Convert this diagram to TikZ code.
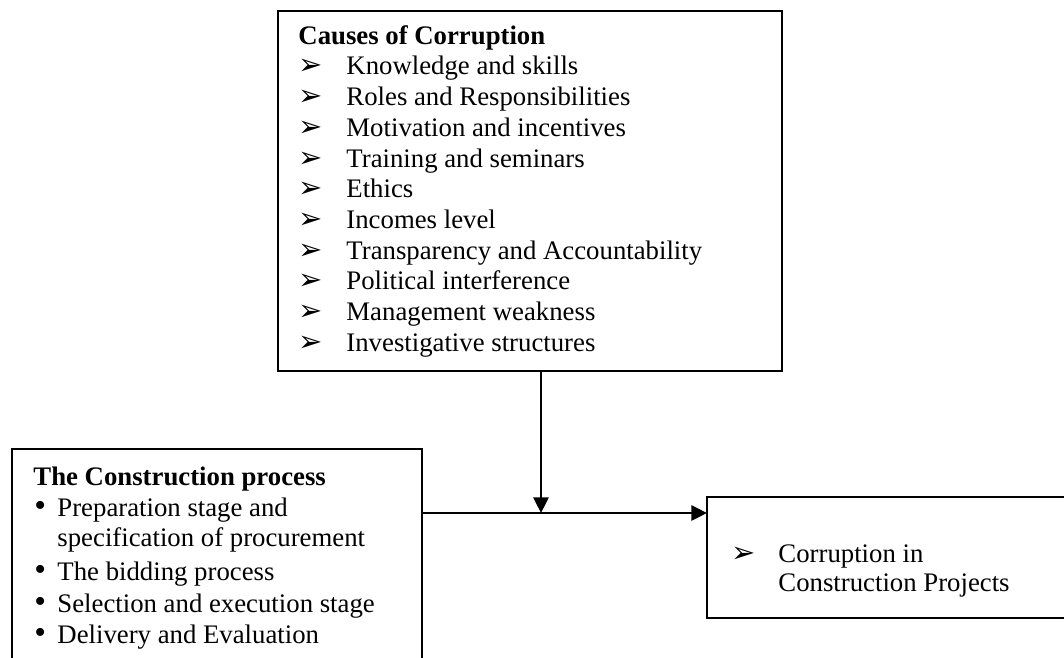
\documentclass[tikz,border=0pt]{standalone}
\usepackage{fontspec}
\setmainfont{Liberation Serif}
\newfontfamily\arrowfont{DejaVu Sans}
\usetikzlibrary{arrows.meta}
\newcommand{\pxu}{0.4484pt}
\newcommand{\pointer}{{\arrowfont\fontsize{13pt}{14pt}\selectfont ➢}}
\newcommand{\stagedot}{{\fontsize{15pt}{15pt}\selectfont\textbullet}}
\tikzset{
  box/.style={draw,line width=0.8pt,rectangle,inner sep=0pt,anchor=north west},
  openbox/.style={rectangle,inner sep=0pt,anchor=north west},
  frame/.style={line width=0.8pt},
  entry/.style={anchor=base west,inner sep=0pt,font=\fontsize{12pt}{13.8pt}\selectfont},
  flow/.style={line width=1pt,-{Triangle[length=7pt,width=6.8pt]}}
}

\begin{document}
\begin{tikzpicture}[x=0.4484pt,y=-0.4484pt]
          \useasboundingbox (0,0) rectangle (1064,658);
          \clip (0,0) rectangle (1064,658);
          \node[box,minimum width=504*\pxu,minimum height=360*\pxu] (causes) at (277,10) {};
          \node[openbox,minimum width=409*\pxu,minimum height=240*\pxu] (process) at (12,449) {};
          \node[openbox,minimum width=400*\pxu,minimum height=120*\pxu] (result) at (707,497) {};
          \draw[frame] (process.south west) -- (process.north west) -- (process.north east) -- (process.south east); % runs past the bottom
          \draw[frame] (result.north east) -- (result.north west) -- (result.south west) -- (result.south east);     % runs past the right side
          \coordinate (join) at (541,513);
          \node[entry] (causestitle) at (298,45) {\textbf{Causes of Corruption}};
          \node[entry] (c1) at (346,75) {Knowledge and skills};
          \node[entry] (c2) at (346,105.7) {Roles and Responsibilities};
          \node[entry] (c3) at (346,136.4) {Motivation and incentives};
          \node[entry] (c4) at (346,167.1) {Training and seminars};
          \node[entry] (c5) at (346,197.8) {Ethics};
          \node[entry] (c6) at (346,228.5) {Incomes level};
          \node[entry] (c7) at (346,259.2) {Transparency and Accountability};
          \node[entry] (c8) at (346,289.9) {Political interference};
          \node[entry] (c9) at (346,320.6) {Management weakness};
          \node[entry] (c10) at (346,351.3) {Investigative structures};
          \node[entry] (m1) at (298,75) {\pointer};
          \node[entry] (m2) at (298,105.7) {\pointer};
          \node[entry] (m3) at (298,136.4) {\pointer};
          \node[entry] (m4) at (298,167.1) {\pointer};
          \node[entry] (m5) at (298,197.8) {\pointer};
          \node[entry] (m6) at (298,228.5) {\pointer};
          \node[entry] (m7) at (298,259.2) {\pointer};
          \node[entry] (m8) at (298,289.9) {\pointer};
          \node[entry] (m9) at (298,320.6) {\pointer};
          \node[entry] (m10) at (298,351.3) {\pointer};
          \node[entry] (processtitle) at (33,485) {\textbf{The Construction process}};
          \node[entry] (p1) at (57,516) {Preparation stage and};                % stage 1
          \node[entry] (p1b) at (57,546) {specification of procurement};
          \node[entry] (p2) at (57,580) {The bidding process};                  % stage 2
          \node[entry] (p3) at (57,612) {Selection and execution stage};        % stage 3
          \node[entry] (p4) at (57,643) {Delivery and Evaluation};              % stage 4
          \node[entry] (b1) at (34,516) {\stagedot};
          \node[entry] (b2) at (34,580) {\stagedot};
          \node[entry] (b3) at (34,612) {\stagedot};
          \node[entry] (b4) at (34,643) {\stagedot};
          \node[entry] (rm) at (731,562) {\pointer};
          \node[entry] (r1) at (778,562) {Corruption in};
          \node[entry] (r2) at (778,591) {Construction Projects};
          \draw[flow] (causes.south -| join) -- (join);
          \draw[flow] (process.east |- join) -- (result.west |- join);
        \end{tikzpicture}
\end{document}
